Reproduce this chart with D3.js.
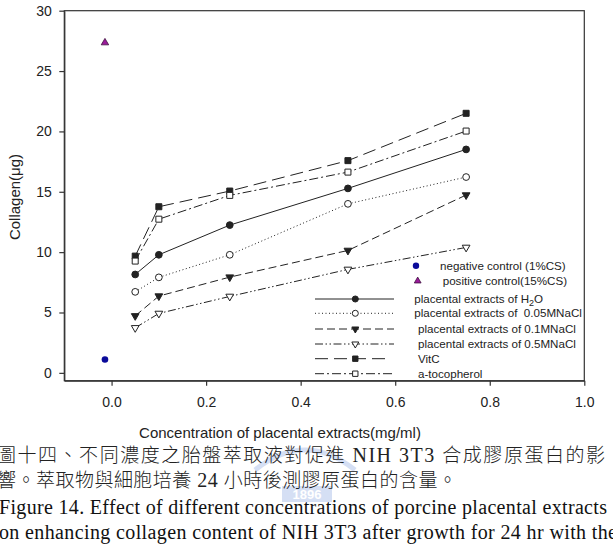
<!DOCTYPE html>
<html>
<head>
<meta charset="utf-8">
<script src="https://cdn.jsdelivr.net/npm/d3@7"></script>
<style>
  body { margin: 0; background: #fff; }
  svg { display: block; }
</style>
</head>
<body>
<script>
// data
var concentrations = [0.05, 0.1, 0.25, 0.5, 0.75];
var h2o        = [8.15, 9.78, 12.24, 15.28, 18.51];
var nacl005    = [6.71, 7.91, 9.78, 14.0, 16.22];
var nacl01     = [4.72, 6.36, 7.93, 10.14, 14.73];
var nacl05     = [3.73, 4.92, 6.33, 8.57, 10.39];
var vitC       = [9.67, 13.76, 15.06, 17.58, 21.50];
var tocopherol = [9.26, 12.73, 14.70, 16.63, 20.03];
var negControl = {x: -0.014, y: 1.11};
var posControl = {x: -0.014, y: 27.35};
var xTicks = [0, 0.2, 0.4, 0.6, 0.8, 1.0];
var yTicks = [0, 5, 10, 15, 20, 25, 30];

var width = 613, height = 547;
var plot = {left: 64.3, right: 584.3, top: 10.7, bottom: 380.7};

var svg = d3.select("body").append("svg")
    .attr("width", width)
    .attr("height", height);

// scales
var x = d3.scaleLinear().domain([-0.1, 1.0]).range([plot.left, plot.right]);
var y = d3.scaleLinear().domain([-0.65, 30]).range([plot.bottom, plot.top]);

var ink = "#222";

// series styles
var series = [
  {name: "h2o",  values: h2o,        dash: null,                 symbol: d3.symbolCircle,   size: 36, fill: ink,    rot: 0},
  {name: "n005", values: nacl005,    dash: "1,2.5",              symbol: d3.symbolCircle,   size: 36, fill: "#fff", rot: 0},
  {name: "n01",  values: nacl01,     dash: "8,4",                symbol: d3.symbolTriangle, size: 26, fill: ink,    rot: 180},
  {name: "n05",  values: nacl05,     dash: "8,2.5,1.5,2.5,1.5,2.5", symbol: d3.symbolTriangle, size: 26, fill: "#fff", rot: 180},
  {name: "vitc", values: vitC,       dash: "13,6",               symbol: d3.symbolSquare,   size: 36, fill: ink,    rot: 0},
  {name: "toc",  values: tocopherol, dash: "9,3,2,3",            symbol: d3.symbolSquare,   size: 36, fill: "#fff", rot: 0}
];

// frame
svg.append("rect")
    .attr("x", plot.left).attr("y", plot.top)
    .attr("width", plot.right - plot.left)
    .attr("height", plot.bottom - plot.top)
    .attr("fill", "none")
    .attr("stroke", "#333")
    .attr("stroke-width", 1.2);

// axes
var xAxis = svg.append("g")
    .attr("transform", "translate(0," + plot.bottom + ")")
    .call(d3.axisBottom(x).tickValues(xTicks).tickFormat(d3.format(".1f"))
      .tickSize(5).tickPadding(11).tickSizeOuter(0));

var yAxis = svg.append("g")
    .attr("transform", "translate(" + plot.left + ",0)")
    .call(d3.axisLeft(y).tickValues(yTicks).tickSize(5).tickPadding(7.5).tickSizeOuter(0));

[xAxis, yAxis].forEach(function(a) {
  a.select(".domain").attr("stroke", "#333").attr("stroke-width", 1.2);
  a.selectAll(".tick line").attr("stroke", "#333").attr("stroke-width", 1.2);
  a.selectAll(".tick text")
    .attr("fill", ink)
    .style("font-family", "'Liberation Sans', Arial, sans-serif")
    .style("font-size", "14px");
});

// axis titles
svg.append("text")
    .attr("transform", "translate(20,197) rotate(-90)")
    .attr("text-anchor", "middle")
    .attr("fill", ink)
    .style("font-family", "'Liberation Sans', Arial, sans-serif")
    .style("font-size", "15px")
    .text("Collagen(\u03bcg)");

svg.append("text")
    .attr("x", 280).attr("y", 438)
    .attr("text-anchor", "middle")
    .attr("fill", ink)
    .style("font-family", "'Liberation Sans', Arial, sans-serif")
    .style("font-size", "15px")
    .text("Concentration of placental extracts(mg/ml)");

// lines
var line = d3.line()
    .x(function(d, i) { return x(concentrations[i]); })
    .y(function(d) { return y(d); });

series.forEach(function(s) {
  svg.append("path")
      .attr("d", line(s.values))
      .attr("fill", "none")
      .attr("stroke", ink)
      .attr("stroke-width", 1)
      .attr("stroke-dasharray", s.dash);

  svg.selectAll(".pt-" + s.name)
      .data(s.values)
    .enter().append("path")
      .attr("class", "pt-" + s.name)
      .attr("d", d3.symbol().type(s.symbol).size(s.size))
      .attr("transform", function(d, i) {
        return "translate(" + x(concentrations[i]) + "," + y(d) + ") rotate(" + s.rot + ")";
      })
      .attr("fill", s.fill)
      .attr("stroke", ink)
      .attr("stroke-width", 1);
});

// controls
svg.append("circle")
    .attr("cx", x(negControl.x)).attr("cy", y(negControl.y))
    .attr("r", 3.3)
    .attr("fill", "#0a0a9a");

svg.append("path")
    .attr("d", d3.symbol().type(d3.symbolTriangle).size(24))
    .attr("transform", "translate(" + x(posControl.x) + "," + y(posControl.y) + ")")
    .attr("fill", "#9a1a9a")
    .attr("stroke", "#401040")
    .attr("stroke-width", 0.8);

// legend
var legendFont = "'Liberation Sans', Arial, sans-serif";
var lg = svg.append("g");

lg.append("circle").attr("cx", 416).attr("cy", 265.7).attr("r", 3.2).attr("fill", "#0a0a9a");
lg.append("text").attr("x", 440).attr("y", 269.8)
    .attr("fill", ink).style("font-family", legendFont).style("font-size", "11.6px")
    .text("negative control (1%CS)");

lg.append("path")
    .attr("d", d3.symbol().type(d3.symbolTriangle).size(20))
    .attr("transform", "translate(417.7,281)")
    .attr("fill", "#9a1a9a").attr("stroke", "#401040").attr("stroke-width", 0.8);
lg.append("text").attr("x", 442.7).attr("y", 285)
    .attr("fill", ink).style("font-family", legendFont).style("font-size", "11.6px")
    .text("positive control(15%CS)");

var legendRows = [
  {y: 299,   x0: 315, x1: 394, tx: 414.3, label: "placental extracts of H", sub: "2", tail: "O"},
  {y: 313.3, x0: 315, x1: 394, tx: 414.3, label: "placental extracts of  0.05MNaCl"},
  {y: 329,   x0: 315, x1: 394, tx: 418,   label: "placental extracts of 0.1MNaCl"},
  {y: 344,   x0: 315, x1: 394, tx: 418,   label: "placental extracts of 0.5MNaCl"},
  {y: 358.7, x0: 315, x1: 387, tx: 418,   label: "VitC"},
  {y: 373.7, x0: 315, x1: 392, tx: 418,   label: "a-tocopherol"}
];

legendRows.forEach(function(r, i) {
  var s = series[i];
  lg.append("line")
      .attr("x1", r.x0).attr("x2", r.x1)
      .attr("y1", r.y).attr("y2", r.y)
      .attr("stroke", ink).attr("stroke-width", 1)
      .attr("stroke-dasharray", s.dash);
  lg.append("path")
      .attr("d", d3.symbol().type(s.symbol).size(s.size * 0.8))
      .attr("transform", "translate(355.3," + r.y + ") rotate(" + s.rot + ")")
      .attr("fill", s.fill).attr("stroke", ink).attr("stroke-width", 1);
  var t = lg.append("text")
      .attr("x", r.tx).attr("y", r.y + 4)
      .attr("fill", ink)
      .style("font-family", legendFont)
      .style("font-size", "11.6px")
      .style("white-space", "pre")
      .text(r.label);
  if (r.sub) {
    t.append("tspan").attr("dy", 3).style("font-size", "9px").text(r.sub);
    t.append("tspan").attr("dy", -3).text(r.tail);
  }
});

// faint watermark behind the caption
var wm = svg.append("g").attr("opacity", 0.35);
wm.append("path")
    .attr("d", "M255,470 Q305,430 355,470")
    .attr("fill", "none").attr("stroke", "#8aa6e0").attr("stroke-width", 5);
wm.append("rect").attr("x", 282).attr("y", 486).attr("width", 50).attr("height", 16)
    .attr("fill", "#8aa6e0");
wm.append("text").attr("x", 307).attr("y", 499).attr("text-anchor", "middle")
    .attr("fill", "#fff").style("font-family", "'Liberation Sans', Arial")
    .style("font-size", "13px").style("font-weight", "bold").text("1896");

// caption
var cjk = "'Noto Sans CJK TC', 'Noto Sans CJK SC', sans-serif";
var serif = "'Liberation Serif', 'Times New Roman', serif";

function captionLine(yy, parts, len) {
  var t = svg.append("text")
      .attr("x", -3).attr("y", yy)
      .attr("fill", "#222")
      .attr("textLength", len)
      .attr("lengthAdjust", "spacing");
  parts.forEach(function(p) {
    t.append("tspan")
      .style("font-family", p[1] ? serif : cjk)
      .style("font-size", p[1] ? "20px" : "19px")
      .style("font-weight", p[1] ? "normal" : "300")
      .text(p[0]);
  });
}

captionLine(462, [["圖十四、不同濃度之胎盤萃取液對促進"], [" NIH 3T3 ", 1], ["合成膠原蛋白的影"]], 608);
captionLine(487, [["響。萃取物與細胞培養"], [" 24 ", 1], ["小時後測膠原蛋白的含量。"]], 460);

svg.append("text").attr("x", -1).attr("y", 514)
    .attr("fill", "#111").attr("textLength", 608).attr("lengthAdjust", "spacing")
    .style("font-family", serif).style("font-size", "20px")
    .text("Figure 14. Effect of different concentrations of porcine placental extracts");
svg.append("text").attr("x", -1).attr("y", 539)
    .attr("fill", "#111").attr("textLength", 618).attr("lengthAdjust", "spacing")
    .style("font-family", serif).style("font-size", "20px")
    .text("on enhancing collagen content of NIH 3T3 after growth for 24 hr with the");
</script>
</body>
</html>
